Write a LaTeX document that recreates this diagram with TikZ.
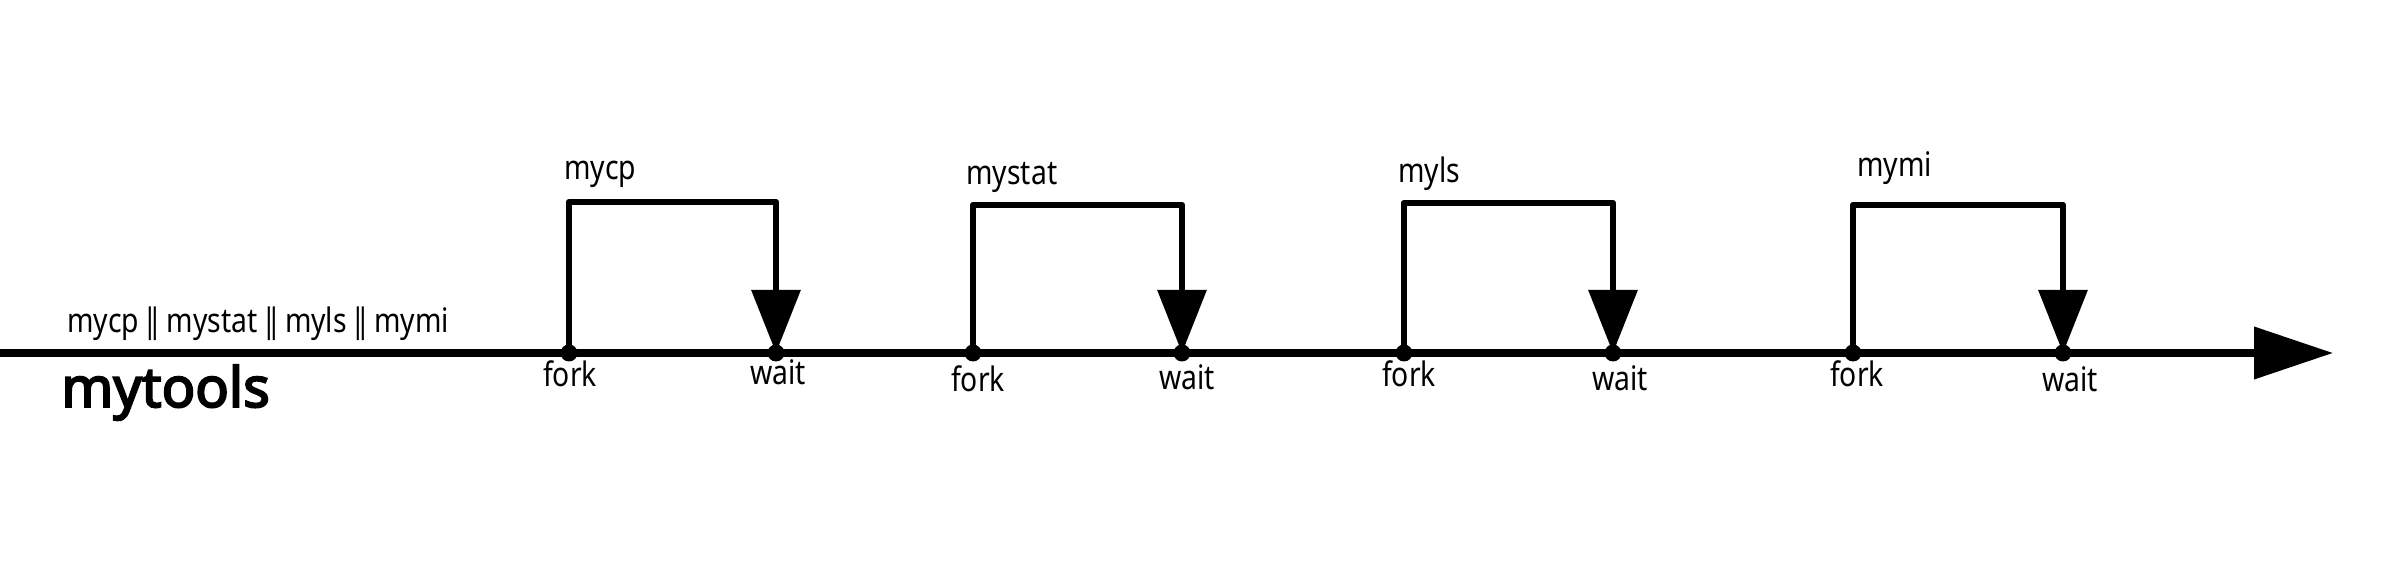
\documentclass[tikz,border=0pt]{standalone}
\usepackage{fontspec}
\setmainfont{Noto Sans}[FakeStretch=0.84]
\newfontfamily\titlefont{Noto Sans}[FakeBold=3.5]
\usetikzlibrary{arrows.meta,positioning}

\newcommand{\vbars}{\kern-0.4mm|\kern-1.06mm|\kern-0.4mm}

\tikzset{
  dot/.style={circle,fill=black,inner sep=0pt,minimum size=1.7mm},
  branch/.style={line width=1.8pt,line join=round,-{Triangle[length=6.3mm,width=4.8mm]}},
  lbl/.style={font=\fontsize{9.6}{11}\selectfont,inner sep=0pt},
}

\begin{document}
\begin{tikzpicture}[thick]
%%Location
\useasboundingbox (0,0) rectangle (24.06,5.8);
%%fork and wait points
\node[dot] (fork1) at (5.69,2.27) {};
\node[dot] (wait1) at (7.76,2.27) {};
\node[dot] (fork2) at (9.73,2.27) {};
\node[dot] (wait2) at (11.82,2.27) {};
\node[dot] (fork3) at (14.04,2.27) {};
\node[dot] (wait3) at (16.13,2.27) {};
\node[dot] (fork4) at (18.53,2.27) {};
\node[dot] (wait4) at (20.63,2.27) {};
%%axis
\coordinate (start) at (0,2.27);
\coordinate (end) at (23.33,2.27);
\draw[line width=2.1pt,-{Triangle[length=7.9mm,width=5.1mm]}] (start) -- (end);
%%branches
\draw[branch] (fork1.center) -- ++(0,1.51) -| (wait1.center);
\draw[branch] (fork2.center) -- ++(0,1.48) -| (wait2.center);
\draw[branch] (fork3.center) -- ++(0,1.50) -| (wait3.center);
\draw[branch] (fork4.center) -- ++(0,1.48) -| (wait4.center);
%%Label
\node[lbl,anchor=base west] (all) at (0.66,2.47) {mycp {\vbars} mystat {\vbars} myls {\vbars} mymi};
\node[anchor=base west,inner sep=0pt,font=\titlefont\fontsize{15.8}{19}\selectfont] (mytools) at (0.60,1.73) {mytools};
\node[lbl,anchor=base west] (mycp) at (5.63,4.00) {mycp};
\node[lbl,anchor=base west] (mystat) at (9.65,3.95) {mystat};
\node[lbl,anchor=base west] (myls) at (13.97,3.97) {myls};
\node[lbl,anchor=base west] (mymi) at (18.56,4.03) {mymi};
\node[lbl,anchor=base] (forklbl1) at (5.70,1.93) {fork};
\node[lbl,anchor=base] (waitlbl1) at (7.78,1.95) {wait};
\node[lbl,anchor=base] (forklbl2) at (9.78,1.88) {fork};
\node[lbl,anchor=base] (waitlbl2) at (11.87,1.90) {wait};
\node[lbl,anchor=base] (forklbl3) at (14.09,1.93) {fork};
\node[lbl,anchor=base] (waitlbl3) at (16.20,1.89) {wait};
\node[lbl,anchor=base] (forklbl4) at (18.57,1.93) {fork};
\node[lbl,anchor=base] (waitlbl4) at (20.70,1.88) {wait};
\end{tikzpicture}
\end{document}
